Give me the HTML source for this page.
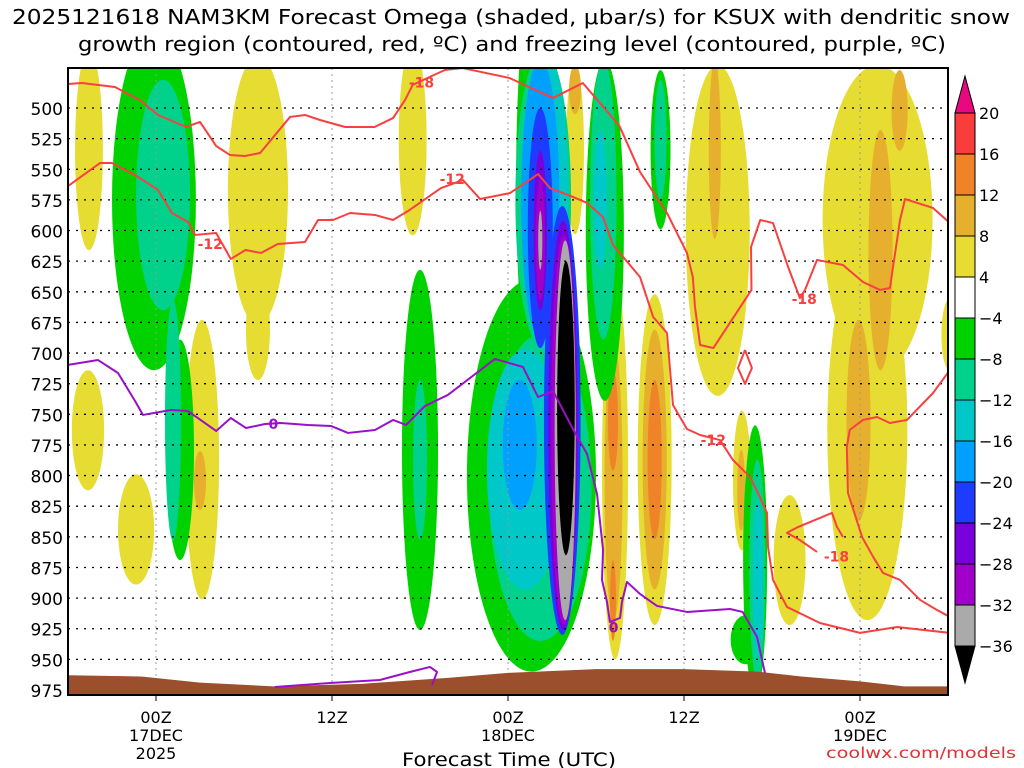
<!DOCTYPE html>
<html><head><meta charset="utf-8">
<style>
body{margin:0;background:#fff;}
svg{display:block;font-family:"DejaVu Sans","Liberation Sans",sans-serif;}
</style></head>
<body>
<svg id="chart" width="1024" height="768" viewBox="0 0 1024 768" xmlns="http://www.w3.org/2000/svg">
<text x="12" y="24" font-size="20" textLength="998" lengthAdjust="spacingAndGlyphs">2025121618 NAM3KM Forecast Omega (shaded, μbar/s) for KSUX with dendritic snow</text>
<text x="78" y="51" font-size="20" textLength="868" lengthAdjust="spacingAndGlyphs">growth region (contoured, red, ºC) and freezing level (contoured, purple, ºC)</text>
<defs><clipPath id="plotclip"><rect x="68" y="68" width="880" height="627"/></clipPath></defs>
<g id="plot" clip-path="url(#plotclip)"></g>
<g id="axes"></g>
<g id="cbar"></g>
<text x="402" y="766" font-size="19" textLength="214" lengthAdjust="spacingAndGlyphs">Forecast Time (UTC)</text>
<text x="826" y="758" font-size="15" textLength="190" lengthAdjust="spacingAndGlyphs" fill="#e03030">coolwx.com/models</text>
</svg>
<script>
// ---- data ----
const yTicks = [500,525,550,575,600,625,650,675,700,725,750,775,800,825,850,875,900,925,950,975];
const xTickHours = [6,18,30,42,54];
const xTickLine1 = ["00Z","12Z","00Z","12Z","00Z"];
const xTickLine2 = ["17DEC","","18DEC","","19DEC"];
const xTickLine3 = ["2025","","","",""];
const cbarLevels = [20,16,12,8,4,-4,-8,-12,-16,-20,-24,-28,-32,-36];
const cbarColors = ["#fa3c3c","#f08228","#e6af2d","#e6dc32","#ffffff","#00d200","#00d28c","#00c8c8","#00a0ff","#1e3cff","#7800dc","#a000c8","#aaaaaa"];
// omega shaded features (hours since 18Z 16DEC, hPa, half-width h, half-height hPa, level)
const blobT = [1.43,1.36,4.64,9.14,9.0,12.95,12.95,23.5,34.57,34.57,37.3,37.2,37.16,37.16,40.0,40.0,40.0,44.3,44.1,45.95,45.9,49.2,55.2,54.5,55.4,53.9,56.7,60.1,
 5.86,7.64,6.48,7.16,24.0,24.0,31.6,32.05,32.2,32.4,31.16,32.5,30.8,32.2,32.2,32.2,32.2,32.2,33.7,33.75,33.8,33.9,33.95,36.6,36.5,36.3,40.4,40.4,46.85,46.2,47.0,47.05];
const blobP = [534,763,844,787,804,567,681,526,534,485,795,804,755,902,787,787,787,600,534,804,812,869,591,763,616,755,502,685,
 575,779,571,755,779,787,800,560,810,575,795,575,775,575,598,600,608,608,755,759,763,763,745,600,575,575,534,526,869,934,877,885];
const blobW = [0.95,1.1,1.23,1.16,0.41,2.05,0.82,0.95,0.61,0.41,0.89,0.61,0.34,0.2,1.16,0.82,0.48,2.18,0.41,0.61,0.27,1.09,3.75,2.73,0.82,0.82,0.55,0.55,
 2.86,0.95,1.84,0.55,1.23,0.48,4.4,1.5,3.5,1.9,2.6,1.6,1.16,1.3,0.85,0.45,0.32,0.14,1.25,1.0,0.86,0.72,0.6,1.3,0.9,0.45,0.68,0.41,0.82,1.02,0.55,0.34];
const blobH = [82,49,45,114,24,110,41,78,69,20,155,114,41,33,135,106,65,135,73,57,33,53,126,155,98,82,33,29,
 139,90,94,98,147,65,160,180,125,122,98,122,53,114,98,65,49,24,175,167,159,155,120,139,114,57,65,49,110,20,90,65];
const blobLevel = [1,1,1,1,2,1,1,1,1,2,1,2,3,3,1,2,3,1,2,1,2,1,1,1,2,2,2,1,
 -1,-1,-2,-2,-1,-2,-1,-1,-2,-2,-3,-3,-4,-4,-5,-6,-7,-8,-5,-6,-7,-8,-9,-1,-2,-3,-1,-2,-1,-1,-2,-3];
// terrain surface pressure
const sfcT = [0,5,9,14,20,26,30,36,42,47,50,54,57,60.13];
const sfcP = [963,964,969,972,970,965,961,958,958,960,964,968,972,972];
// red -18 C contour (upper)
const m18aT = [0,0.95,3.2,4.9,6.14,8.05,9.0,10.1,11.05,12.07,13.1,15.14,16.16,17.18,18.9,20.9,22.16,22.98,23.5,24.8,25.7,26.9,30.1,33.07,35.1,37.6,39.0,40.84,42.2,42.6,42.75,43.1,44.0,46.6,46.57,47.2,48.07,49.1,49.9,50.25,51.07,52.84,54.2,55.36,56.04,56.73,57.07,58.98,60.13];
const m18aP = [480.4,479.6,482.9,493.5,505.7,515.5,511.4,531,538.4,539.2,536.7,507.3,505.7,509.8,515.5,515.5,508.2,493.5,481.2,473.9,469,467.4,475.5,491.8,479.6,514.7,552.2,585.7,618.3,637.9,662.4,693.4,695.9,648.5,613.4,591.4,593.9,629.8,655.1,648.5,624,628.1,642,648.5,646.9,591.4,574.3,581.6,593.9];
// red -12 C contour
const m12T = [0,2.18,3.0,4.57,6.14,7.09,8.18,8.66,10.1,11.1,12.1,13.16,14.3,16.16,17.05,18.07,19.23,20.93,22.16,23.18,25.43,26.93,28.1,30.14,32.05,32.86,34.43,35.39,36.48,37.16,39.0,39.9,40.84,41.25,42.2,43.1,44.45,45.34,46.5,47.18,47.66,47.73,48.07,49.02,51.27,54.0,56.52,60.13];
const m12P = [563.7,544.9,544.9,554.7,566.9,585.7,593,603.6,602,623.2,615.9,618.3,611,609.4,591.4,591.4,585.7,587.3,591.4,584.1,565.3,558.8,574.3,569.4,553.9,565.3,572.6,577.5,589,611.8,637.9,670.6,683.6,742.4,762,766.9,771,787.3,801.1,817.5,830.5,858.3,885.2,907.2,920.3,928.4,923.6,928.4];
// red -18 C contour (right, lower)
const m18bT = [60.13,58.98,57.2,56.04,55.16,54.2,53.3,53.1,53.18,54.14,54.9,55.57,56.73,58.1,59.25,60.13];
const m18bP = [713.8,732.6,754.6,757.1,752.2,754.6,762.8,776.7,814.2,850.1,866.4,879.5,885.2,901.5,909.7,915.4];
const m18cT = [51.07,49.9,49.02,49.77,51.27,52.09,52.43,52.84];
const m18cP = [862.3,852.6,846.8,842,834.6,830.5,841.9,850.1];
const m18dT = [46.16,46.63,46.16,45.68,46.16];
const m18dP = [697.5,712.2,725.2,712.2,697.5];
// purple 0 C contour
const z0aT = [0,2.05,3.41,4.57,5.11,7.02,8.18,9.34,10.1,11.1,12.14,13.43,14.52,16.36,17.93,19.09,20.93,22.16,23.05,24.34,25.9,29.11,31.02,32.05,33.07,34.43,35.39,36.07,36.48,36.41,36.75,36.95,37.64,37.77,38.11,39.0,40.16,42.2,45.14,46.0,46.98,47.52];
const z0aP = [709.7,705.7,716.3,739.1,750.5,746.5,747.3,757.1,763.6,753,761.2,757.9,757.1,758.7,759.5,765.2,762.8,754.6,758.7,743.2,734.2,704.8,711.4,735.9,731,762,782.4,815,860.7,885.2,903.2,919.5,916.2,903.2,886.8,896.6,906.4,911.3,908.9,911.3,931.7,961.1];
const z0bT = [14.11,17.86,21.27,23.3,24.68,25.16,24.82];
const z0bP = [972.5,969.3,966.8,960.3,956.2,960.3,970.9];
// contour labels
const labelText = ["-18","-12","-12","-12","-18","-18","0","0"];
const labelT = [24.1,9.7,26.2,44.0,50.2,52.4,14.0,37.2];
const labelP = [479,611,558,771,656,866,758,924];
const labelColor = ["r","r","r","r","r","r","p","p"];

// ---- axis functions ----
const X0=68, X1=948, Y0=68, Y1=695;
const T0=0, T1=60;
function xs(t){return X0+(t-T0)/(T1-T0)*(X1-X0);}
function ys(p){return 108+(p-500)*(582/475);}
const NS="http://www.w3.org/2000/svg";
function mk(tag,attrs,parent){const e=document.createElementNS(NS,tag);for(const k in attrs)e.setAttribute(k,attrs[k]);parent.appendChild(e);return e;}
const levelColor={1:"#e6dc32",2:"#e6af2d",3:"#f08228",4:"#fa3c3c",
 "-1":"#00d200","-2":"#00d28c","-3":"#00c8c8","-4":"#00a0ff","-5":"#1e3cff","-6":"#7800dc","-7":"#a000c8","-8":"#aaaaaa","-9":"#000000"};
const plot=document.getElementById('plot');
const axes=document.getElementById('axes');
const cbar=document.getElementById('cbar');

for(let i=0;i<blobT.length;i++){
  const cx=xs(blobT[i]), cy=ys(blobP[i]);
  const rx=xs(blobT[i]+blobW[i])-cx, ry=ys(blobP[i]+blobH[i])-cy;
  const e=mk('ellipse',{cx:cx,cy:cy,rx:rx,ry:ry,fill:levelColor[blobLevel[i]]},plot);
  
  
}
yTicks.forEach(p=>{
  const l=mk('line',{x1:X0,x2:X1,y1:ys(p),y2:ys(p),stroke:"#000","stroke-width":1.3,"stroke-dasharray":"2,6"},plot);
  
  
});
xTickHours.forEach(h=>{
  const l=mk('line',{x1:xs(h),x2:xs(h),y1:Y0,y2:Y1,stroke:"#999","stroke-width":1,"stroke-dasharray":"2,4"},plot);
  
  
});
{
  let d=`M${X0},${Y1+2}`;
  for(let i=0;i<sfcT.length;i++) d+=` L${xs(sfcT[i])},${ys(sfcP[i])}`;
  d+=` L${X1},${Y1+2} Z`;
  const t=mk('path',{d:d,fill:"#9b4f2c"},plot);
  
  
}
function line(T,P,color,name){
  const pts=T.map((t,i)=>xs(t)+','+ys(P[i])).join(' ');
  const l=mk('polyline',{points:pts,fill:"none",stroke:color,"stroke-width":2,"stroke-linejoin":"round"},plot);
  
  
}
const RED="#f84040", PUR="#9a10c8";
line(m18aT,m18aP,RED,'contour-minus18-upper');
line(m12T,m12P,RED,'contour-minus12');
line(m18bT,m18bP,RED,'contour-minus18-right');
line(m18cT,m18cP,RED,'contour-minus18-small');
line(m18dT,m18dP,RED,'contour-minus18-closed');
line(z0aT,z0aP,PUR,'freezing-level-contour');
line(z0bT,z0bP,PUR,'freezing-level-contour-low');
for(let i=0;i<labelText.length;i++){
  const t=mk('text',{x:xs(labelT[i]),y:ys(labelP[i])+5,"font-size":14,"font-weight":"bold","text-anchor":"middle",fill:labelColor[i]==="r"?RED:PUR},plot);
  t.textContent=labelText[i];
  
  
}
{
  const f=mk('rect',{x:X0,y:Y0,width:X1-X0,height:Y1-Y0,fill:"none",stroke:"#000","stroke-width":2},axes);
  
  
}
yTicks.forEach(p=>{
  const t=mk('text',{x:63,y:ys(p)+7,"font-size":17,"text-anchor":"end"},axes);
  t.textContent=p;
  
  
});
xTickHours.forEach((h,i)=>{
  const x=xs(h);
  const tk=mk('line',{x1:x,x2:x,y1:Y1,y2:Y1+6,stroke:"#000","stroke-width":1},axes);
  
  
  [xTickLine1[i],xTickLine2[i],xTickLine3[i]].forEach((s,j)=>{
    if(!s) return;
    const t=mk('text',{x:x,y:723+j*18,"font-size":16,"text-anchor":"middle"},axes);
    t.textContent=s;
    
    
  });
});
{
  const bx=955,bw=20,top=113,step=41;
  const up=mk('polygon',{points:`${bx},${top} ${bx+bw},${top} ${bx+bw/2},${top-37}`,fill:"#e8087f",stroke:"#000","stroke-width":1},cbar);
  
  
  cbarColors.forEach((c,i)=>{
    const r=mk('rect',{x:bx,y:top+i*step,width:bw,height:step,fill:c,stroke:"#000","stroke-width":1},cbar);
    
    
  });
  const yb=top+cbarColors.length*step;
  const dn=mk('polygon',{points:`${bx},${yb} ${bx+bw},${yb} ${bx+bw/2},${yb+37}`,fill:"#000",stroke:"#000","stroke-width":1},cbar);
  
  
  cbarLevels.forEach((v,i)=>{
    const t=mk('text',{x:979,y:top+i*step+6,"font-size":16},cbar);
    t.textContent=v<0?('\u2212'+(-v)):String(v);
    
    
  });
}
</script>
</body></html>
